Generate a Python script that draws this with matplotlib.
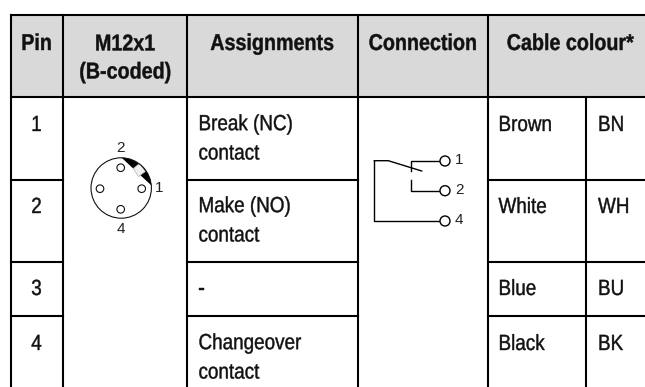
import numpy as np
import matplotlib
matplotlib.use('Agg')
import matplotlib.pyplot as plt
from matplotlib.patches import Rectangle, Circle, Polygon
from matplotlib.patheffects import AbstractPathEffect
from matplotlib.transforms import Affine2D

plt.rcParams['font.family'] = ['Liberation Sans', 'DejaVu Sans']

header_pin = 'Pin'
header_conn = 'M12x1\n(B-coded)'
header_assign = 'Assignments'
header_connection = 'Connection'
header_cable = 'Cable colour*'
pins = ['1', '2', '3', '4']
assignments = ['Break (NC)\ncontact', 'Make (NO)\ncontact', '-', 'Changeover\ncontact']
colours = ['Brown', 'White', 'Blue', 'Black']
codes = ['BN', 'WH', 'BU', 'BK']
terminals = ['1', '2', '4']

col_x = [10.5, 62.5, 187, 358, 488, 586]
row_y = [14.5, 97, 180, 262, 315.5]
lw = 1.5
FS = 15.8
FS_HEAD = 16.5
SX = 0.86
LINE_GAP = 28.5

fig = plt.figure(figsize=(6.45, 3.87), dpi=100)
ax = fig.add_axes([0, 0, 1, 1])
ax.set_xlim(0, 645)
ax.set_ylim(387, 0)
ax.axis('off')


# no narrow font here, so squeeze the glyphs sideways about the anchor
class Squeeze(AbstractPathEffect):
    def __init__(self, x0, sx):
        self.x0 = x0
        self.sx = sx

    def draw_path(self, renderer, gc, tpath, affine, rgbFace=None):
        squeeze = Affine2D().translate(-self.x0, 0).scale(self.sx, 1).translate(self.x0, 0)
        gc0 = renderer.new_gc()
        gc0.copy_properties(gc)
        gc0.set_linewidth(0.3)
        gc0.set_foreground(rgbFace)
        renderer.draw_path(gc0, tpath, affine + squeeze, rgbFace)
        gc0.restore()


# y is the baseline of the first line
def narrow(x, y, s, ha='left', size=FS, weight='normal', spacing=1.52):
    y = y + LINE_GAP * s.count('\n')
    ax.text(x, y, s, ha=ha, va='baseline', fontsize=size, fontweight=weight, color='#111111',
            linespacing=spacing, path_effects=[Squeeze(x, SX)])


ax.add_patch(Rectangle((col_x[0], row_y[0]), 645 - col_x[0], row_y[1] - row_y[0], fc='#d9d9d9', ec='none'))

# horizontal rules
ax.plot([col_x[0], 645], [row_y[0]] * 2, 'k', lw=lw)
ax.plot([col_x[0], 645], [row_y[1]] * 2, 'k', lw=lw)
for y in row_y[2:]:
    ax.plot([col_x[0], col_x[1]], [y, y], 'k', lw=lw)
    ax.plot([col_x[2], col_x[3]], [y, y], 'k', lw=lw)
    ax.plot([col_x[4], 645], [y, y], 'k', lw=lw)

# vertical rules
for x in col_x[:5]:
    ax.plot([x, x], [row_y[0], 387], 'k', lw=lw)
ax.plot([col_x[5], col_x[5]], [row_y[1], 387], 'k', lw=lw)

narrow(36.5, 50, header_pin, 'center', FS_HEAD, 'bold')
narrow(125, 50, header_conn, 'center', FS_HEAD, 'bold', spacing=1.28)
narrow(272, 50, header_assign, 'center', FS_HEAD, 'bold')
narrow(422.5, 50, header_connection, 'center', FS_HEAD, 'bold')
narrow(570, 50, header_cable, 'center', FS_HEAD, 'bold')

baselines = [131, 213, 295, 350]
for i in range(4):
    narrow(36.5, baselines[i], pins[i], 'center')
    narrow(198.5, baselines[i], assignments[i])
    narrow(498.5, baselines[i], colours[i])
    narrow(598, baselines[i], codes[i])

# connector face
cx, cy, r = 121.2, 188, 30.2
ang = np.radians(np.linspace(5, 89, 40))
ax.add_patch(Polygon(np.column_stack([cx + r * np.cos(ang), cy - r * np.sin(ang)]), fc='k', ec='none', zorder=3))
ax.add_patch(Polygon([(133.3, 168.3), (139.5, 163.5), (145.5, 171.5), (138.3, 176.7)],
                     fc='#eeeeee', ec='#aaaaaa', lw=0.4, zorder=4))
ax.add_patch(Circle((cx, cy), r, fc='none', ec='#111111', lw=0.8, zorder=5))
for p in [(120.7, 167.7), (100, 188.7), (141.7, 188.7), (120.7, 209.3)]:
    ax.add_patch(Circle(p, 3.8, fc='white', ec='#111111', lw=0.8, zorder=5))
for s, x, y in [('2', 120.7, 148.3), ('1', 159.3, 187.7), ('4', 120.7, 229)]:
    ax.text(x, y, s, ha='center', va='center', fontsize=11, color='#222222')

# switch symbol
wire = 1.0
ax.plot([445, 411, 411], [160.7, 160.7, 171], 'k', lw=wire)
ax.plot([374.3, 388.3, 421.7], [160.7, 160.7, 171], 'k', lw=wire)
ax.plot([374.3, 374.3, 445], [160.7, 221, 221], 'k', lw=wire)
ax.plot([411, 411, 445], [180, 190.7, 190.7], 'k', lw=wire)
for i, y in enumerate([161, 190.7, 221]):
    ax.add_patch(Circle((445, y), 5, fc='white', ec='k', lw=1.0, zorder=3))
    ax.text(459.3, y - 0.5, terminals[i], ha='center', va='center', fontsize=11, color='#222222')

fig.savefig('out.png', dpi=100)
